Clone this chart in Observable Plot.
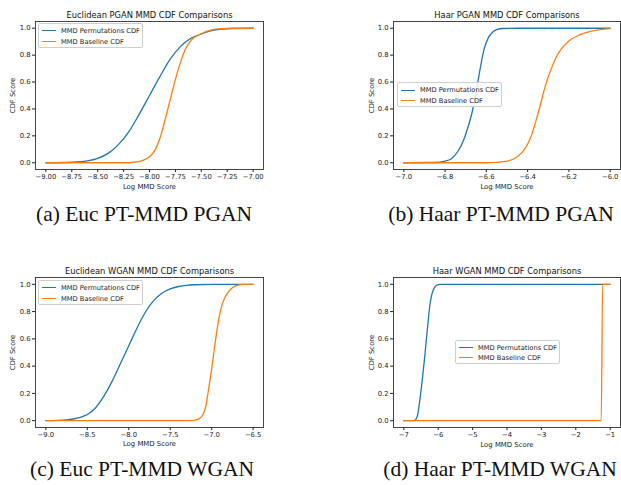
<!DOCTYPE html>
<html><head><meta charset="utf-8">
<script src="https://cdn.jsdelivr.net/npm/d3@7"></script>
<script src="https://cdn.jsdelivr.net/npm/@observablehq/plot@0.6"></script>
<style>
body{margin:0;background:#fff;}
#root{position:relative;width:621px;height:485px;overflow:hidden;font-family:"DejaVu Sans";background:#fff;}
.panel{position:absolute;}
.cap{position:absolute;font-family:"Liberation Serif";font-size:21.5px;line-height:1;white-space:nowrap;transform:translateX(-50%);color:#111;}
.legend{position:absolute;box-sizing:border-box;border:0.8px solid #cfcfcf;border-radius:2px;background:rgba(255,255,255,0.85);font-family:"DejaVu Sans";font-size:6.7px;color:#222;}
.row{position:absolute;left:0;height:8px;line-height:8px;width:100%;}
.row .ln{position:absolute;left:2.5px;top:3.4px;width:14.5px;height:0;border-top:1.3px solid;}
.row .tx{position:absolute;left:22px;top:0;white-space:nowrap;}
</style>
</head><body><div id="root"></div>
<script>
// ---------- data ----------
const seriesNames = ["MMD Permutations CDF", "MMD Baseline CDF"];
const seriesColors = ["#1f77b4", "#ff7f0e"];
const yTicks = [0, 0.2, 0.4, 0.6, 0.8, 1.0];

// (a) Euclidean PGAN
const titleA = "Euclidean PGAN MMD CDF Comparisons";
const xTicksA = [-9, -8.75, -8.5, -8.25, -8, -7.75, -7.5, -7.25, -7];
const aPermX = [-9.0, -8.75, -8.6, -8.5, -8.4, -8.3, -8.2, -8.1, -8.0, -7.9, -7.8, -7.7, -7.6, -7.5, -7.4, -7.3, -7.2, -7.0];
const aPermY = [0, 0.004, 0.014, 0.033, 0.07, 0.135, 0.23, 0.36, 0.5, 0.64, 0.77, 0.865, 0.925, 0.958, 0.982, 0.993, 0.998, 1.0];
const aBaseX = [-9.0, -8.25, -8.15, -8.05, -8.0, -7.95, -7.9, -7.85, -7.8, -7.75, -7.7, -7.65, -7.6, -7.55, -7.5, -7.45, -7.4, -7.3, -7.2, -7.0];
const aBaseY = [0, 0, 0.004, 0.022, 0.045, 0.09, 0.18, 0.32, 0.47, 0.62, 0.75, 0.85, 0.91, 0.94, 0.958, 0.976, 0.988, 0.997, 1.0, 1.0];

// (b) Haar PGAN
const titleB = "Haar PGAN MMD CDF Comparisons";
const xTicksB = [-7.0, -6.8, -6.6, -6.4, -6.2, -6.0];
const bPermX = [-7.0, -6.85, -6.8, -6.77, -6.74, -6.71, -6.69, -6.67, -6.65, -6.63, -6.61, -6.59, -6.57, -6.55, -6.52, -6.45, -6.0];
const bPermY = [0, 0.002, 0.012, 0.03, 0.08, 0.17, 0.26, 0.37, 0.52, 0.7, 0.85, 0.93, 0.97, 0.99, 0.998, 1.0, 1.0];
const bBaseX = [-7.0, -6.6, -6.55, -6.5, -6.45, -6.42, -6.4, -6.38, -6.36, -6.34, -6.32, -6.3, -6.28, -6.26, -6.24, -6.2, -6.15, -6.1, -6.05, -6.0];
const bBaseY = [0, 0, 0.003, 0.012, 0.045, 0.09, 0.14, 0.21, 0.31, 0.42, 0.54, 0.64, 0.72, 0.79, 0.84, 0.905, 0.95, 0.975, 0.99, 0.997];

// (c) Euclidean WGAN
const titleC = "Euclidean WGAN MMD CDF Comparisons";
const xTicksC = [-9.0, -8.5, -8.0, -7.5, -7.0, -6.5];
const cPermX = [-9.0, -8.75, -8.6, -8.5, -8.4, -8.3, -8.2, -8.1, -8.0, -7.9, -7.8, -7.7, -7.6, -7.5, -7.4, -7.3, -7.2, -7.0, -6.5];
const cPermY = [0, 0.006, 0.022, 0.045, 0.095, 0.18, 0.29, 0.42, 0.55, 0.68, 0.795, 0.88, 0.935, 0.967, 0.984, 0.993, 0.997, 1.0, 1.0];
const cBaseX = [-9.0, -7.3, -7.2, -7.15, -7.1, -7.07, -7.04, -7.0, -6.97, -6.94, -6.91, -6.88, -6.85, -6.8, -6.75, -6.7, -6.65, -6.6, -6.5];
const cBaseY = [0, 0, 0.004, 0.015, 0.05, 0.11, 0.22, 0.38, 0.52, 0.65, 0.76, 0.84, 0.89, 0.945, 0.975, 0.99, 0.997, 1.0, 1.0];

// (d) Haar WGAN
const titleD = "Haar WGAN MMD CDF Comparisons";
const xTicksD = [-7, -6, -5, -4, -3, -2, -1];
const dPermX = [-7.0, -6.7, -6.65, -6.6, -6.55, -6.5, -6.45, -6.4, -6.35, -6.3, -6.25, -6.2, -6.15, -6.1, -6.0, -5.9, -1.0];
const dPermY = [0, 0, 0.01, 0.04, 0.12, 0.22, 0.33, 0.45, 0.58, 0.71, 0.83, 0.91, 0.955, 0.98, 0.997, 1.0, 1.0];
const dBaseX = [-7.0, -1.26, -1.22, -1.0];
const dBaseY = [0, 0, 1.0, 1.0];

const captions = ["(a) Euc PT-MMD PGAN", "(b) Haar PT-MMD PGAN", "(c) Euc PT-MMD WGAN", "(d) Haar PT-MMD WGAN"];
const xLabel = "Log MMD Score";
const yLabel = "CDF Score";

// ---------- drawing ----------
const root = document.getElementById("root");
const zip = (xs, ys) => xs.map((x, i) => ({x, y: ys[i]}));

function pad(ticks) {
  const lo = ticks[0], hi = ticks[ticks.length - 1], m = (hi - lo) * 0.05;
  return [lo - m, hi + m];
}

function panel(cfg) {
  const chart = Plot.plot({
    width: cfg.w, height: cfg.h,
    marginLeft: cfg.ml, marginRight: cfg.mr, marginTop: cfg.mt, marginBottom: cfg.mb,
    style: {fontFamily: "DejaVu Sans", fontSize: "6.8px", color: "#222", background: "transparent", overflow: "visible"},
    x: {domain: pad(cfg.xTicks), ticks: cfg.xTicks, tickFormat: d3.format(cfg.fmt), tickSize: 3, tickPadding: 2, label: null},
    y: {domain: [-0.05, 1.05], ticks: yTicks, tickFormat: d3.format(".1f"), tickSize: 3, tickPadding: 2, label: null},
    marks: [
      Plot.line(zip(cfg.px, cfg.py), {x: "x", y: "y", stroke: seriesColors[0], strokeWidth: 1.3, curve: "monotone-x"}),
      Plot.line(zip(cfg.bx, cfg.by), {x: "x", y: "y", stroke: seriesColors[1], strokeWidth: 1.3, curve: "monotone-x"}),
      Plot.frame({stroke: "#333", strokeWidth: 0.9}),
      Plot.text([cfg.title], {text: d => d, frameAnchor: "top", lineAnchor: "middle", textAnchor: "middle", dy: -6.6, fontSize: 8.3, fill: "#111"}),
      Plot.text([xLabel], {text: d => d, frameAnchor: "bottom", lineAnchor: "middle", textAnchor: "middle", dy: cfg.xlDy, fontSize: 6.9, fill: "#222"}),
      Plot.text([yLabel], {text: d => d, frameAnchor: "left", lineAnchor: "middle", textAnchor: "middle", dx: cfg.ylDx, rotate: -90, fontSize: 6.9, fill: "#222"})
    ]
  });
  const div = document.createElement("div");
  div.className = "panel";
  div.style.left = cfg.left + "px";
  div.style.top = cfg.top + "px";
  div.appendChild(chart);
  root.appendChild(div);

  const lg = document.createElement("div");
  lg.className = "legend";
  lg.style.left = cfg.lg[0] + "px";
  lg.style.top = cfg.lg[1] + "px";
  lg.style.width = cfg.lg[2] + "px";
  lg.style.height = cfg.lg[3] + "px";
  seriesNames.forEach((n, i) => {
    const r = document.createElement("div");
    r.className = "row";
    r.style.top = (cfg.rows[i] - 4) + "px";
    const ln = document.createElement("span");
    ln.className = "ln";
    ln.style.borderTopColor = seriesColors[i];
    const tx = document.createElement("span");
    tx.className = "tx";
    tx.textContent = n;
    r.appendChild(ln); r.appendChild(tx);
    lg.appendChild(r);
  });
  root.appendChild(lg);
}

panel({left: 0, top: 0, w: 270, h: 195, ml: 35, mr: 7, mt: 21, mb: 26, xTicks: xTicksA, fmt: ".2f",
  px: aPermX, py: aPermY, bx: aBaseX, by: aBaseY, title: titleA, xlDy: 17.4, ylDx: -23,
  lg: [38, 23, 105, 24.5], rows: [7, 17.5]});
panel({left: 310, top: 0, w: 311, h: 195, ml: 83, mr: 1, mt: 21, mb: 26, xTicks: xTicksB, fmt: ".1f",
  px: bPermX, py: bPermY, bx: bBaseX, by: bBaseY, title: titleB, xlDy: 17.4, ylDx: -22,
  lg: [397, 82, 105, 24.5], rows: [7.3, 17.5]});
panel({left: 0, top: 240, w: 270, h: 210, ml: 35, mr: 7, mt: 37, mb: 23, xTicks: xTicksC, fmt: ".1f",
  px: cPermX, py: cPermY, bx: cBaseX, by: cBaseY, title: titleC, xlDy: 16.3, ylDx: -23,
  lg: [38, 280, 105, 24.5], rows: [7, 17.5]});
panel({left: 310, top: 240, w: 311, h: 210, ml: 83, mr: 1, mt: 37, mb: 23, xTicks: xTicksD, fmt: "d",
  px: dPermX, py: dPermY, bx: dBaseX, by: dBaseY, title: titleD, xlDy: 16.8, ylDx: -22,
  lg: [455, 340, 105, 23.5], rows: [7, 17]});

const capPos = [[144, 204], [501, 204], [142, 459], [500, 459]];
captions.forEach((c, i) => {
  const d = document.createElement("div");
  d.className = "cap";
  d.style.left = capPos[i][0] + "px";
  d.style.top = capPos[i][1] + "px";
  d.textContent = c;
  root.appendChild(d);
});
</script>
</body></html>
